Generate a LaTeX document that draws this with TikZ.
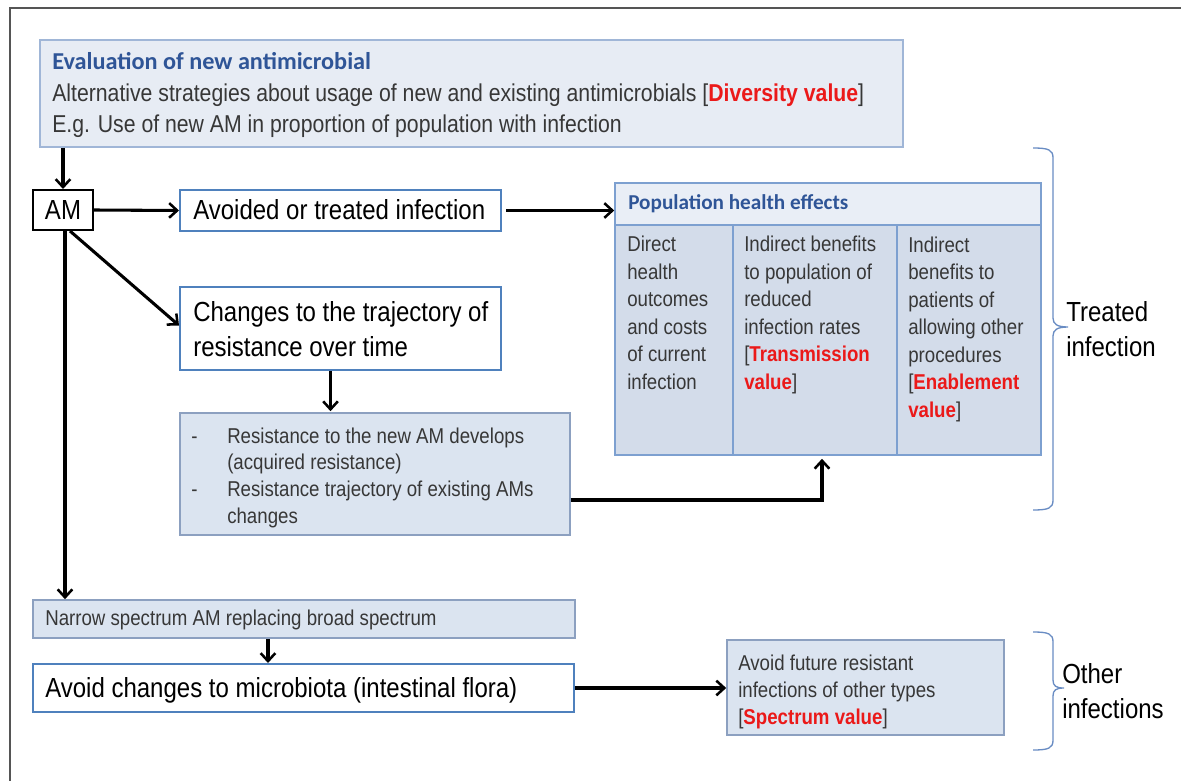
\documentclass[tikz,border=0pt]{standalone}
\usepackage{fontspec}
\setmainfont{Liberation Sans}[FakeStretch=0.87]
\newfontfamily\titlefont{Carlito}
\usetikzlibrary{arrows.meta,fit,calc}
\definecolor{frame}{RGB}{85,85,85}
\definecolor{boxblue}{RGB}{79,129,189}
\definecolor{lightfill}{RGB}{219,228,240}
\definecolor{lightdraw}{RGB}{140,160,192}
\definecolor{topfill}{RGB}{231,236,244}
\definecolor{topdraw}{RGB}{160,182,215}
\definecolor{hdrfill}{RGB}{233,238,246}
\definecolor{popfill}{RGB}{211,220,234}
\definecolor{popdraw}{RGB}{125,160,208}
\definecolor{titleblue}{RGB}{47,85,151}
\definecolor{valred}{RGB}{235,25,25}
\definecolor{txtgray}{RGB}{55,55,55}
\definecolor{bracecol}{RGB}{105,140,195}
\newcommand\bigtxt{\fontsize{20.7}{26.25}\selectfont}
\newcommand\smtxt{\fontsize{16.1}{20.6}\selectfont}
\newcommand\midtxt{\fontsize{18.3}{23.25}\selectfont}
\newcommand\redv[1]{{\color{valred}\bfseries #1}}
\tikzset{
  whitebox/.style={draw=boxblue, line width=1.5pt, fill=white, inner sep=0pt},
  lightbox/.style={draw=lightdraw, line width=1.2pt, fill=lightfill, inner sep=0pt},
  txt/.style={inner sep=0pt, anchor=west, align=left},
  arr/.style={draw=black, line width=2.3pt, -{Straight Barb[length=6pt,width=11pt,line width=1.9pt]}},
  bracestyle/.style={draw=bracecol, line width=1pt},
}
\begin{document}
\begin{tikzpicture}[x=0.75pt,y=-0.75pt]
\useasboundingbox (0,0) rectangle (1181,781);
% frame
\draw[frame, line width=1.8pt] (10,781) -- (10,8) -- (1181,8);

% top box
\node[draw=topdraw, fill=topfill, line width=1.2pt, inner sep=0pt, fit={(40,40) (903,147)}] (top) {};
\node[txt, anchor=base west, font={\titlefont\bfseries\fontsize{18.2}{20}\selectfont}, text=titleblue] (toptitle) at (52,70) {Evaluation of new antimicrobial};
\node[txt, anchor=base west, text=txtgray, font=\midtxt] (topbody) at (52,133) {Alternative strategies about usage of new and existing antimicrobials [\redv{Diversity value}]\\E.g. Use of new AM in proportion of population with infection};

% AM
\node[draw=black, line width=1.5pt, fill=white, inner sep=0pt, fit={(33,190) (93,230)}] (am) {};
\node[inner sep=0pt, font=\bigtxt] (amtxt) at (am.center) {AM};

% avoided
\node[whitebox, fit={(180,190) (501,231)}] (avoided) {};
\node[txt, font=\bigtxt] (avoidedtxt) at (193,210) {Avoided or treated infection};

% changes
\node[whitebox, fit={(180,287) (501,370)}] (changes) {};
\node[txt, font=\bigtxt] (changestxt) at (193,329) {Changes to the trajectory of\\resistance over time};

% resistance
\node[lightbox, fit={(180,413) (570,535)}] (resist) {};
\node[txt, anchor=north west, text=txtgray, font={\fontsize{16.1}{20.1}\selectfont}] (resisttxt) at (191,424) {\begin{tabular}{@{}p{27pt}@{}l@{}}
- & Resistance to the new AM develops\\
  & (acquired resistance)\\
- & Resistance trajectory of existing AMs\\
  & changes
\end{tabular}};

% population health effects
\node[draw=popdraw, fill=popfill, line width=1.2pt, inner sep=0pt, fit={(615,183) (1041,455)}] (pop) {};
\fill[hdrfill] (615,183) rectangle (1041,225);
\draw[popdraw, line width=1.2pt] (615,183) rectangle (1041,455);
\draw[popdraw, line width=1.2pt] (615,225) -- (1041,225);
\draw[popdraw, line width=1.2pt] (733,225) -- (733,455);
\draw[popdraw, line width=1.2pt] (897,225) -- (897,455);
\node[txt, font={\titlefont\bfseries\fontsize{15.9}{17}\selectfont}, text=titleblue] (pophdr) at (628,204) {Population health effects};
\node[txt, anchor=base west, text=txtgray, font=\smtxt] (col1) at (627,389) {Direct\\health\\outcomes\\and costs\\of current\\infection};
\node[txt, anchor=base west, text=txtgray, font=\smtxt] (col2) at (744,389) {Indirect benefits\\to population of\\reduced\\infection rates\\{[}\redv{Transmission}\\\redv{value}]};
\node[txt, anchor=base west, text=txtgray, font=\smtxt] (col3) at (908,417) {Indirect\\benefits to\\patients of\\allowing other\\procedures\\{[}\redv{Enablement}\\\redv{value}]};

% narrow
\node[lightbox, fit={(33,600) (575,638)}] (narrow) {};
\node[txt, text=txtgray, font=\smtxt] (narrowtxt) at (45,620) {Narrow spectrum AM replacing broad spectrum};

% avoid changes
\node[whitebox, fit={(33,664) (574,712)}] (avoidch) {};
\node[txt, font=\bigtxt] (avoidchtxt) at (45,690) {Avoid changes to microbiota (intestinal flora)};

% spectrum
\node[lightbox, fit={(727,640) (1004,735)}] (spectrum) {};
\node[txt, anchor=base west, text=txtgray, font={\fontsize{16.1}{20.2}\selectfont}] (spectxt) at (738,724) {Avoid future resistant\\infections of other types\\{[}\redv{Spectrum value}]};

% braces
\draw[bracestyle] (1033,148) .. controls (1049,148) and (1053,150) .. (1053,158) -- (1053,318)
  .. controls (1053,324) and (1057,327) .. (1068,327)
  .. controls (1057,327) and (1053,330) .. (1053,336) -- (1053,500)
  .. controls (1053,508) and (1049,510) .. (1033,510);
\node[txt, font=\bigtxt] (treated) at (1066,329) {Treated\\infection};
\draw[bracestyle] (1033,632) .. controls (1049,632) and (1053,634) .. (1053,642) -- (1053,680)
  .. controls (1053,686) and (1056,688) .. (1064,688)
  .. controls (1056,688) and (1053,690) .. (1053,696) -- (1053,740)
  .. controls (1053,748) and (1049,750) .. (1033,750);
\node[txt, font=\bigtxt] (other) at (1062,691) {Other\\infections};

% connectors
\draw[arr] (top.south -| am.north) -- (am.north);
\draw[arr] (am.east) -- (avoided.west);
\draw[arr] ($(avoided.east)+(4,0)$) -- (avoided.east -| pop.west);
\draw[arr] ($(am.south)+(7,0)$) -- ($(changes.west)+(0,-3)$);
\draw[arr] ($(am.south)+(2,0)$) -- ($(am.south |- narrow.north)+(2,0)$);
\draw[arr] ($(changes.south)+(-10,0)$) -- ($(changes.south |- resist.north)+(-10,-1)$);
\coordinate (bend) at (822,500);
\draw[arr] (bend -| resist.east) -- (bend) -- ($(bend |- pop.south)+(0,3)$);
\draw[arr] (narrow.south -| 268,0) -- (avoidch.north -| 268,0);
\draw[arr] (avoidch.east) -- (avoidch.east -| spectrum.west);
\end{tikzpicture}
\end{document}
